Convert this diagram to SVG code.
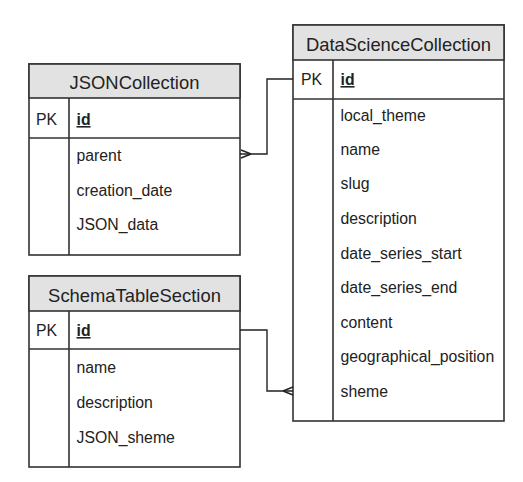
<svg xmlns="http://www.w3.org/2000/svg" width="523" height="482" viewBox="0 0 523 482">
<style>
.box{fill:#fff;stroke:#333;stroke-width:1.6}
.hdr{fill:#e2e2e2;stroke:#333;stroke-width:1.6}
.ln{stroke:#333;stroke-width:1.6;fill:none}
.title{font-family:"Liberation Sans",Arial,sans-serif;font-size:18.4px;fill:#222;text-anchor:middle}
.f{font-family:"Liberation Sans",Arial,sans-serif;font-size:15.8px;fill:#222}
.pk{font-family:"Liberation Sans",Arial,sans-serif;font-size:15.8px;fill:#222;font-weight:bold;text-decoration:underline}
.con{stroke:#222;stroke-width:1.4;fill:none}
</style>
<rect width="523" height="482" fill="#fff"/>
<g id="JSONCollection">
<rect class="box" x="29" y="64" width="211" height="191"/>
<rect class="hdr" x="29" y="64" width="211" height="34"/>
<line class="ln" x1="29" y1="138" x2="240" y2="138"/>
<line class="ln" x1="69" y1="98" x2="69" y2="255"/>
<text class="title" x="134.5" y="89">JSONCollection</text>
<text class="f" x="36" y="125">PK</text>
<text class="pk" x="76.5" y="125">id</text>
<text class="f" x="76.5" y="161">parent</text>
<text class="f" x="76.5" y="196">creation_date</text>
<text class="f" x="76.5" y="230">JSON_data</text>
</g>
<g id="DataScienceCollection">
<rect class="box" x="293" y="25" width="211" height="396"/>
<rect class="hdr" x="293" y="25" width="211" height="35"/>
<line class="ln" x1="293" y1="99" x2="504" y2="99"/>
<line class="ln" x1="333" y1="60" x2="333" y2="421"/>
<text class="title" x="398.5" y="50.5">DataScienceCollection</text>
<text class="f" x="301" y="85">PK</text>
<text class="pk" x="340.5" y="85">id</text>
<text class="f" x="340.5" y="121">local_theme</text>
<text class="f" x="340.5" y="155">name</text>
<text class="f" x="340.5" y="189">slug</text>
<text class="f" x="340.5" y="224">description</text>
<text class="f" x="340.5" y="259">date_series_start</text>
<text class="f" x="340.5" y="293">date_series_end</text>
<text class="f" x="340.5" y="328">content</text>
<text class="f" x="340.5" y="362">geographical_position</text>
<text class="f" x="340.5" y="397">sheme</text>
</g>
<g id="SchemaTableSection">
<rect class="box" x="29" y="276" width="211" height="191"/>
<rect class="hdr" x="29" y="276" width="211" height="35"/>
<line class="ln" x1="29" y1="349" x2="240" y2="349"/>
<line class="ln" x1="69" y1="311" x2="69" y2="467"/>
<text class="title" x="134.5" y="301.5">SchemaTableSection</text>
<text class="f" x="36" y="336">PK</text>
<text class="pk" x="76.5" y="336">id</text>
<text class="f" x="76.5" y="373">name</text>
<text class="f" x="76.5" y="408">description</text>
<text class="f" x="76.5" y="443">JSON_sheme</text>
</g>
<g id="connectors">
<path class="con" d="M240,154 H267 V79 H293"/>
<path class="con" d="M251,154 L241,150 M251,154 L241,158"/>
<path class="con" d="M240,330 H267 V391 H293"/>
<path class="con" d="M283,391 L293,387 M283,391 L293,395"/>
</g>
</svg>
